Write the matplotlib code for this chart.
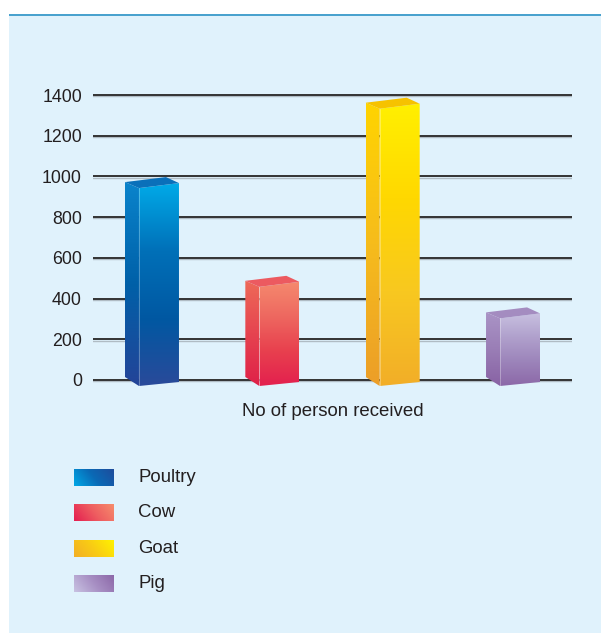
import numpy as np
import matplotlib
matplotlib.use("Agg")
from matplotlib import pyplot as plt
from matplotlib.patches import Polygon, Rectangle
from matplotlib.colors import LinearSegmentedColormap

plt.rcParams['font.family'] = ['Liberation Sans', 'DejaVu Sans']

# data
animals = ["Poultry", "Cow", "Goat", "Pig"]
received = [955, 470, 1345, 315]
yticks = [0, 200, 400, 600, 800, 1000, 1200, 1400]
xlabel = "No of person received"

# colours: front face (top -> bottom), side face (top -> bottom), top face, legend (left -> right)
front_cols = [["#00AAE8", "#0070B8", "#0058A2", "#2A4A9A"],
              ["#F58A6E", "#EE6860", "#E8404E", "#E3204E"],
              ["#FFF000", "#FFD800", "#F8C820", "#F2AE28"],
              ["#C8C0E0", "#B0A0CC", "#9C84BA", "#8C68A8"]]
side_cols = [["#0A84CC", "#0060A8", "#244498"],
             ["#EE6A58", "#E64450", "#DF2048"],
             ["#FFD400", "#F6BC1C", "#EC9E28"],
             ["#AA94C6", "#9A7EB6", "#8862A4"]]
top_cols = ["#0A70BA", "#EC5A60", "#F6C200", "#A48CC0"]
legend_cols = [["#00A8E6", "#0A6AB6", "#1E4C9C"],
               ["#E41E50", "#EE5C60", "#F68C6C"],
               ["#F2AE26", "#F9CC14", "#FFF200"],
               ["#C8C2E2", "#A890C4", "#8C68A8"]]

W, H = 601, 633
fig = plt.figure(figsize=(W / 100, H / 100), dpi=100)
fig.patch.set_facecolor("white")

# panel background + top rule
fig.patches.append(Rectangle((9 / W, 0), 1 - 9 / W, (H - 14) / H, transform=fig.transFigure,
                             facecolor="#E0F2FC", edgecolor="none", zorder=-2))
fig.patches.append(Rectangle((9 / W, (H - 15.5) / H), 1 - 9 / W, 2 / H, transform=fig.transFigure,
                             facecolor="#4AA2CE", edgecolor="none", zorder=-1))

# chart axes (pixel layout)
left, right = 93, 572
top_px, bot_px = 85, 395
y0_px, y1400_px = 380, 95
upp = 1400 / (y0_px - y1400_px)  # data units per pixel
ax = fig.add_axes([left / W, (H - bot_px) / H, (right - left) / W, (bot_px - top_px) / H])
ax.set_facecolor("none")
ax.set_ylim(-(bot_px - y0_px) * upp, 1400 + (y1400_px - top_px) * upp)
xmin, xmax = -0.49, 3.49
ax.set_xlim(xmin, xmax)
uxp = (xmax - xmin) / (right - left)  # x units per pixel
for s in ax.spines.values():
    s.set_visible(False)
ax.set_xticks([])
ax.set_yticks(yticks)
ax.tick_params(axis="y", length=0, pad=8, labelsize=12.8, labelcolor="#231F20")

for t in yticks:
    ax.axhline(t - 1.3 * upp, color="#B0BCC4", lw=1.0, zorder=1)
    ax.axhline(t, color="#333333", lw=1.4, zorder=2)

ax.set_xlabel(xlabel, fontsize=13.4, color="#231F20", labelpad=6)


def grad_fill(a, poly_pts, cols, direction="v", z=3):
    poly = Polygon(poly_pts, closed=True, facecolor="none", edgecolor="none", zorder=z)
    a.add_patch(poly)
    xs = [p[0] for p in poly_pts]
    ys = [p[1] for p in poly_pts]
    cmap = LinearSegmentedColormap.from_list("g", cols)
    if direction == "v":
        img = np.linspace(0, 1, 256).reshape(-1, 1)
        ext = [min(xs), max(xs), min(ys), max(ys)]
    else:
        gx, gy = np.meshgrid(np.linspace(0, 1, 64), np.linspace(0, 1, 64))
        img = gx * 0.75 + (1 - gy) * 0.25
        ext = [min(xs), max(xs), max(ys), min(ys)]
    im = a.imshow(img, cmap=cmap, extent=ext, origin="upper",
                  aspect="auto", zorder=z, interpolation="bilinear")
    im.set_clip_path(poly)
    return im


# 3D bars
for i, v in enumerate(received):
    fl = i - 13 * uxp           # front face left
    fr = i + 27 * uxp           # front face right
    sl = i - 27 * uxp           # side face left
    bl = -6 * upp               # bottom at front-left
    br = -2 * upp               # bottom at front-right
    tl = v - 2.5 * upp
    tr = v + 2.5 * upp
    front = [(fl, bl), (fr, br), (fr, tr), (fl, tl)]
    side = [(sl, bl + 9 * upp), (fl, bl), (fl, tl), (sl, tl + 6 * upp)]
    topf = [(sl, tl + 6 * upp), (fl, tl), (fr, tr), (fr - 13 * uxp, tr + 6 * upp)]
    grad_fill(ax, side, side_cols[i], z=3)
    grad_fill(ax, front, front_cols[i], z=4)
    ax.add_patch(Polygon(topf, closed=True, facecolor=top_cols[i], edgecolor="none", zorder=4))
    ax.plot([fl, fl], [bl, tl], color="white", alpha=0.35, lw=0.6, zorder=5)

ax.set_xlim(xmin, xmax)
ax.set_ylim(-(bot_px - y0_px) * upp, 1400 + (y1400_px - top_px) * upp)

# legend in pixel space
lax = fig.add_axes([0, 0, 1, 1])
lax.set_xlim(0, W)
lax.set_ylim(H, 0)
lax.axis("off")
lax.set_facecolor("none")
for i, name in enumerate(animals):
    cy = 477.5 + i * 35.4
    sw = [(74, cy - 8.5), (114, cy - 8.5), (114, cy + 8.5), (74, cy + 8.5)]
    grad_fill(lax, sw, legend_cols[i], direction="d", z=3)
    lax.text(138, cy, name, fontsize=13.4, color="#231F20", va="center", ha="left")
lax.set_xlim(0, W)
lax.set_ylim(H, 0)

fig.savefig("out.png", dpi=100)
